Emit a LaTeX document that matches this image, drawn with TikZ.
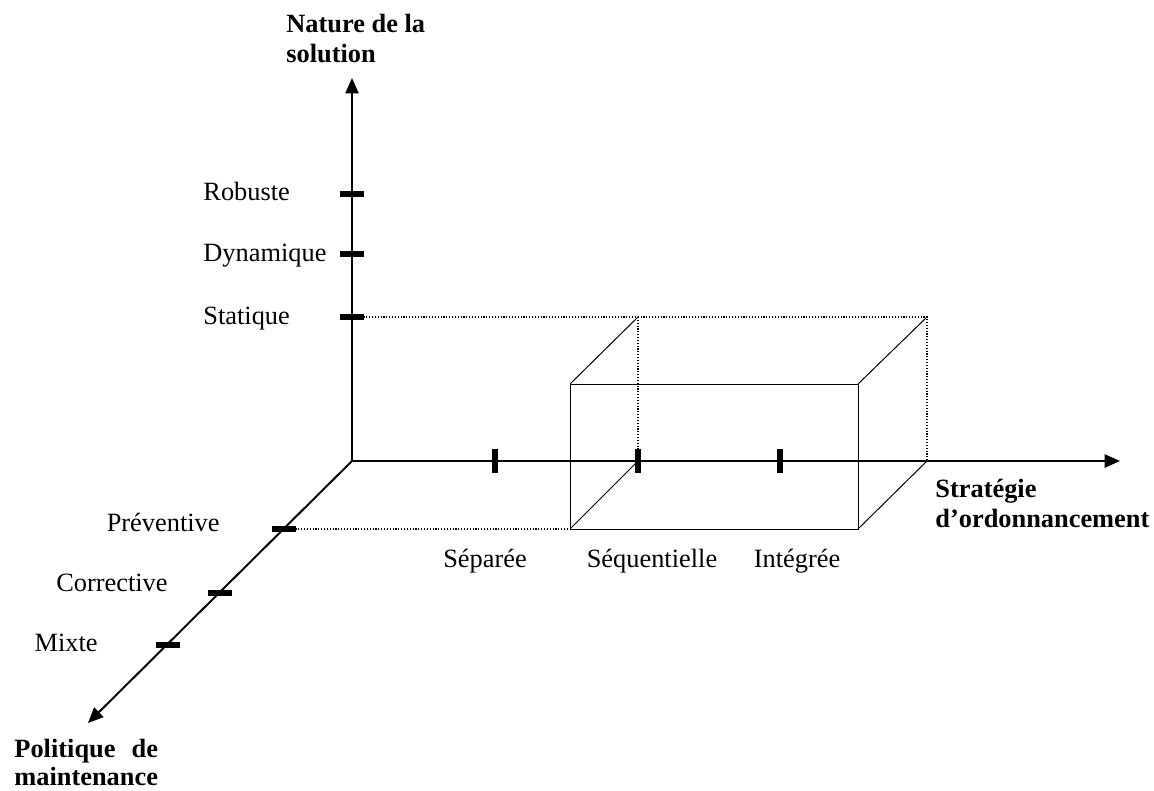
\documentclass[tikz,border=0pt]{standalone}
\usepackage{fontspec}
\setmainfont{Liberation Serif}
\usepackage{calc}
\usetikzlibrary{arrows.meta,positioning,calc}

\tikzset{
  axis/.style={line width=0.9pt, -{Triangle[length=7pt,width=6pt]}},
  tickmark/.style={line width=2.5pt},
  boxedge/.style={line width=0.45pt},
  hidden/.style={line width=0.7pt, dash pattern=on 0.5pt off 0.8pt},
  axislabel/.style={font=\fontsize{12}{13.4}\selectfont\bfseries, align=left, inner sep=0pt, anchor=north west},
  valuelabel/.style={font=\fontsize{12}{13.4}\selectfont, inner sep=0pt}
}
% short bars on the axes
\newcommand{\hBar}[1]{\draw[tickmark] ($(#1)+(-12,0)$) -- ++(24,0);}
\newcommand{\vBar}[1]{\draw[tickmark] ($(#1)+(0,-12)$) -- ++(0,24);}

\begin{document}
\begin{tikzpicture}[x=0.455pt, y=-0.455pt]
  \useasboundingbox (0,0) rectangle (1154,791);

  \coordinate (O) at (352,461);
  \coordinate (ytip) at (352,78);
  \coordinate (xtip) at (1120,461);
  \coordinate (ztip) at (88,723);

  % tick positions
  \foreach \n/\y in {rob/194, dyn/254, sta/317}
    \coordinate (\n) at (352,\y);
  \foreach \n/\x in {sep/495, seq/638, int/780}
    \coordinate (\n) at (\x,461);
  \foreach \n/\d in {pre/68, cor/132, mix/184}
    \coordinate (\n) at ($(O)+(-\d,\d)$);

  % the box
  \coordinate (btl) at (638,317);
  \coordinate (btr) at (927,317);
  \coordinate (bbr) at (927,461);
  \coordinate (ftl) at (570,384);
  \coordinate (ftr) at (858,384);
  \coordinate (fbr) at (858,529);
  \coordinate (fbl) at (570,529);

  \draw [hidden] (sta) -- (btl) -- (btr) -- (bbr) (btl) -- (seq) (pre) -- (fbl);
  \draw [boxedge] (ftl) rectangle (fbr);
  \draw [boxedge] (ftl) -- (btl) (ftr) -- (btr) (fbr) -- (bbr) (fbl) -- (seq);

  \draw [axis] (O) -- (ytip);
  \draw [axis] (O) -- (xtip);
  \draw [axis] (O) -- (ztip);

  \foreach \n in {rob,dyn,sta,pre,cor,mix} {\hBar{\n}}
  \foreach \n in {sep,seq,int} {\vBar{\n}}

  % labels
  \node [axislabel] (nature) at (286,14) {Nature de la\\solution};
  \node [axislabel] (strat) at (935,479) {Stratégie\\d’ordonnancement};
  \node [axislabel, font=\fontsize{12}{12.7}\selectfont\bfseries] (polit) at (14,739)
    {\makebox[\widthof{maintenance}][s]{Politique de}\\maintenance};

  \begin{scope}[every node/.style={valuelabel, anchor=base west}]
    \node (robuste) at (203,201) {Robuste};
    \node (dynamique) at (203,262) {Dynamique};
    \node (statique) at (203,324) {Statique};
  \end{scope}
  \begin{scope}[every node/.style={valuelabel, anchor=base}]
    \node (separee) at (485,567) {Séparée};
    \node (sequentielle) at (652,567) {Séquentielle};
    \node (integree) at (797,567) {Intégrée};
  \end{scope}
  \begin{scope}[every node/.style={valuelabel, anchor=base east}]
    \node (preventive) at (220,531) {Préventive};
    \node (corrective) at (168,591) {Corrective};
    \node (mixte) at (98,651) {Mixte};
  \end{scope}
\end{tikzpicture}
\end{document}
